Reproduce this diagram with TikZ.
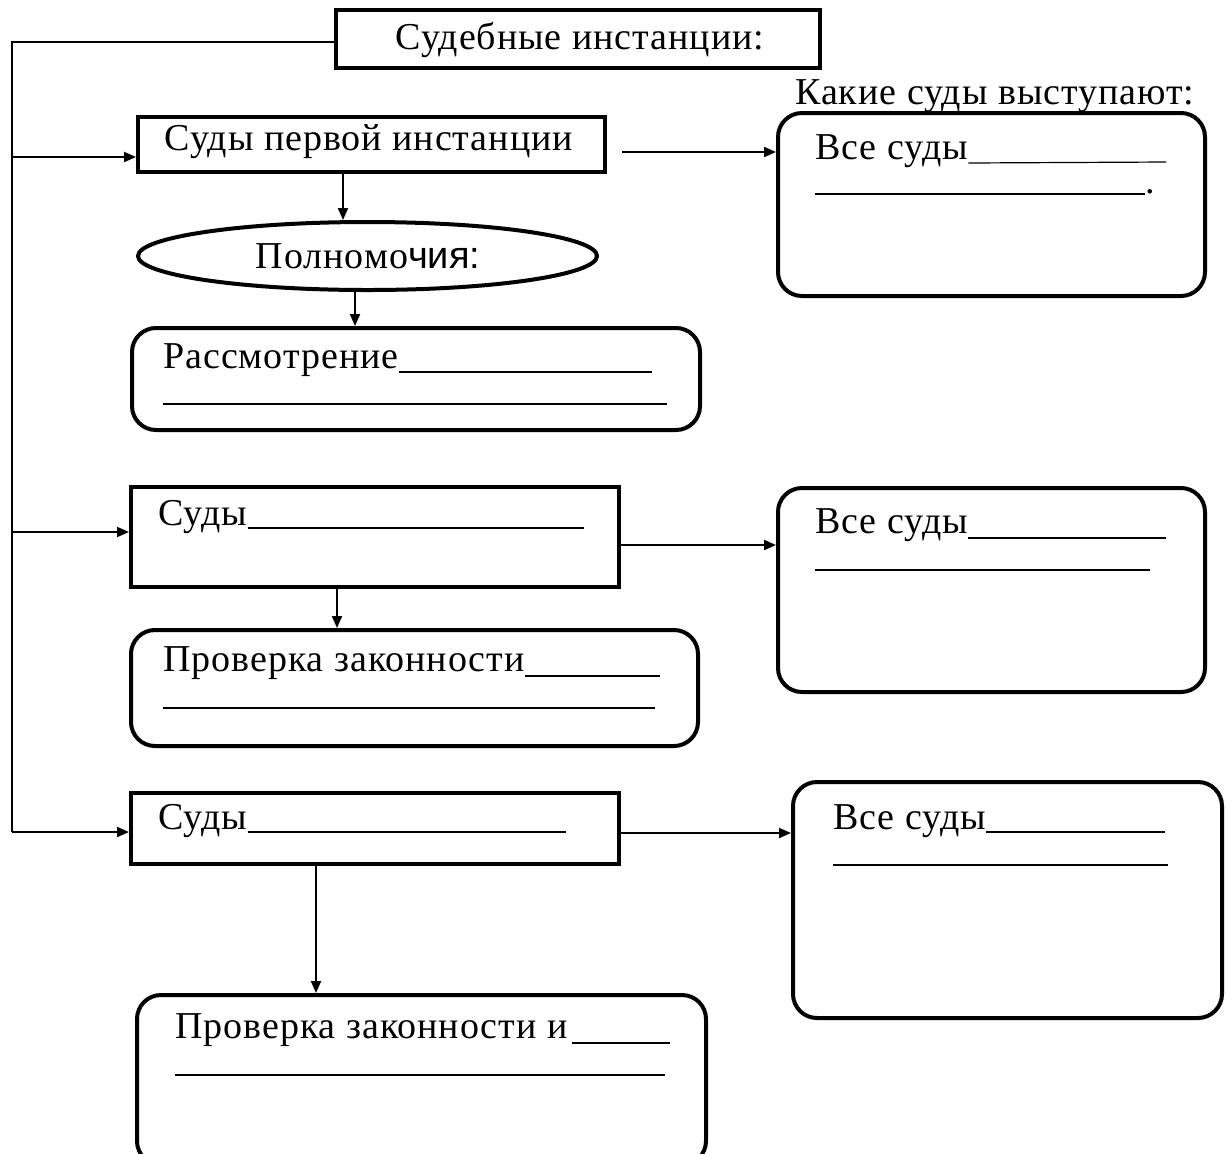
\documentclass[tikz,border=0pt]{standalone}
\usepackage{fontspec}
\setmainfont{Liberation Serif}[LetterSpace=2.5]
\newfontfamily\sansf{Liberation Sans}
\usetikzlibrary{shapes.geometric,arrows.meta}
\begin{document}
\begin{tikzpicture}[x=0.5pt,y=-0.5pt,
  sqbox/.style={draw,line width=2pt,rectangle,inner sep=0pt},
  rbox/.style={draw,line width=2pt,rectangle,rounded corners=12pt,inner sep=0pt},
  oval/.style={draw,line width=2pt,ellipse,inner sep=0pt},
  lbl/.style={font=\fontsize{19}{21}\selectfont,inner sep=0pt,anchor=base west},
  ctr/.style={font=\fontsize{19}{21}\selectfont,inner sep=0pt},
  conn/.style={line width=1pt,-{Triangle[length=6pt,width=5pt]}},
  plain/.style={line width=1pt},
  blank/.style={line width=0.6pt}]
\clip (0,0) rectangle (1227,1153);
\fill[white] (0,0) rectangle (1227,1153);
% boxes
\node[sqbox,minimum width=242pt,minimum height=29pt] (top) at (578,39) {};
\node[ctr] (toptxt) at (580,40) {Судебные инстанции:};
\node[sqbox,minimum width=233.5pt,minimum height=27.5pt] (first) at (371.5,144.5) {};
\node[ctr] (firsttxt) at (369,142) {Суды первой инстанции};
\node[oval,minimum width=229.5pt,minimum height=34pt] (pow) at (367.5,256) {};
\node[ctr] (powtxt) at (368,256) {Полномо{\sansf чия:}};
\node[rbox,minimum width=284pt,minimum height=51pt] (rass) at (416,379) {};
\node[rbox,minimum width=213.5pt,minimum height=91.5pt] (r1) at (991.5,204.5) {};
\node[sqbox,minimum width=244pt,minimum height=50pt] (s2) at (375,537) {};
\node[rbox,minimum width=213.5pt,minimum height=102pt] (r2) at (991.5,590) {};
\node[rbox,minimum width=283.5pt,minimum height=58pt] (prov) at (414.5,688) {};
\node[sqbox,minimum width=244pt,minimum height=35.5pt] (s3) at (375,828.5) {};
\node[rbox,minimum width=214.5pt,minimum height=118pt] (r3) at (1007.5,900) {};
\node[rbox,minimum width=284.5pt,minimum height=85pt] (bot) at (421.5,1080) {};
% texts
\node[lbl] (kak) at (795,104) {Какие суды выступают:};
\node[lbl] (r1t) at (815,159) {Все суды};
\node[lbl] (rasst) at (163,368) {Рассмотрение};
\node[lbl] (s2t) at (158,525) {Суды};
\node[lbl] (r2t) at (815,533) {Все суды};
\node[lbl] (provt) at (163,671) {Проверка законности};
\node[lbl] (s3t) at (158,829) {Суды};
\node[lbl] (r3t) at (833,829) {Все суды};
\node[lbl] (bott) at (175,1038) {Проверка законности и};
\node[lbl] (dot1) at (1145,193) {.};
% blanks
\draw[blank] (rasst.base east) ++(0,4) -- (652,372);
\draw[blank] (163,404) -- (667,404);
\draw[blank] (r1t.base east) ++(0,4) -- (1166,162);
\draw[blank] (815,194) -- (1145,194);
\draw[blank] (s2t.base east) ++(0,3) -- (584,528);
\draw[blank] (r2t.base east) ++(0,5) -- (1166,538);
\draw[blank] (815,570) -- (1150,570);
\draw[blank] (provt.base east) ++(0,5) -- (660,676);
\draw[blank] (163,708) -- (655,708);
\draw[blank] (s3t.base east) ++(0,3) -- (566,832);
\draw[blank] (r3t.base east) ++(0,3) -- (1165,832);
\draw[blank] (833,865) -- (1168,865);
\draw[blank] (572,1043) -- (670,1043);
\draw[blank] (175,1075) -- (665,1075);
% connectors
\coordinate (spine) at (12,42);
\coordinate (spineb) at (12,832);
\coordinate (a1) at (622,152);
\draw[plain] (top.west |- 0,42) -- (spine) -- (spineb);
\draw[conn] (12,157) -- (first.west |- 0,157);
\draw[conn] (12,532) -- (s2.west |- 0,532);
\draw[conn] (spineb) -- (s3.west |- 0,832);
\draw[conn] (a1) -- (r1.west |- a1);
\draw[conn] (s2.east |- 0,545) -- (r2.west |- 0,545);
\draw[conn] (s3.east |- 0,833) -- (r3.west |- 0,833);
\draw[conn] (first.south -| 343,0) -- (pow.north -| 343,0);
\draw[conn] (pow.south -| 355,0) -- (rass.north -| 355,0);
\draw[conn] (s2.south -| 337,0) -- (prov.north -| 337,0);
\draw[conn] (s3.south -| 316,0) -- (bot.north -| 316,0);
\end{tikzpicture}
\end{document}
